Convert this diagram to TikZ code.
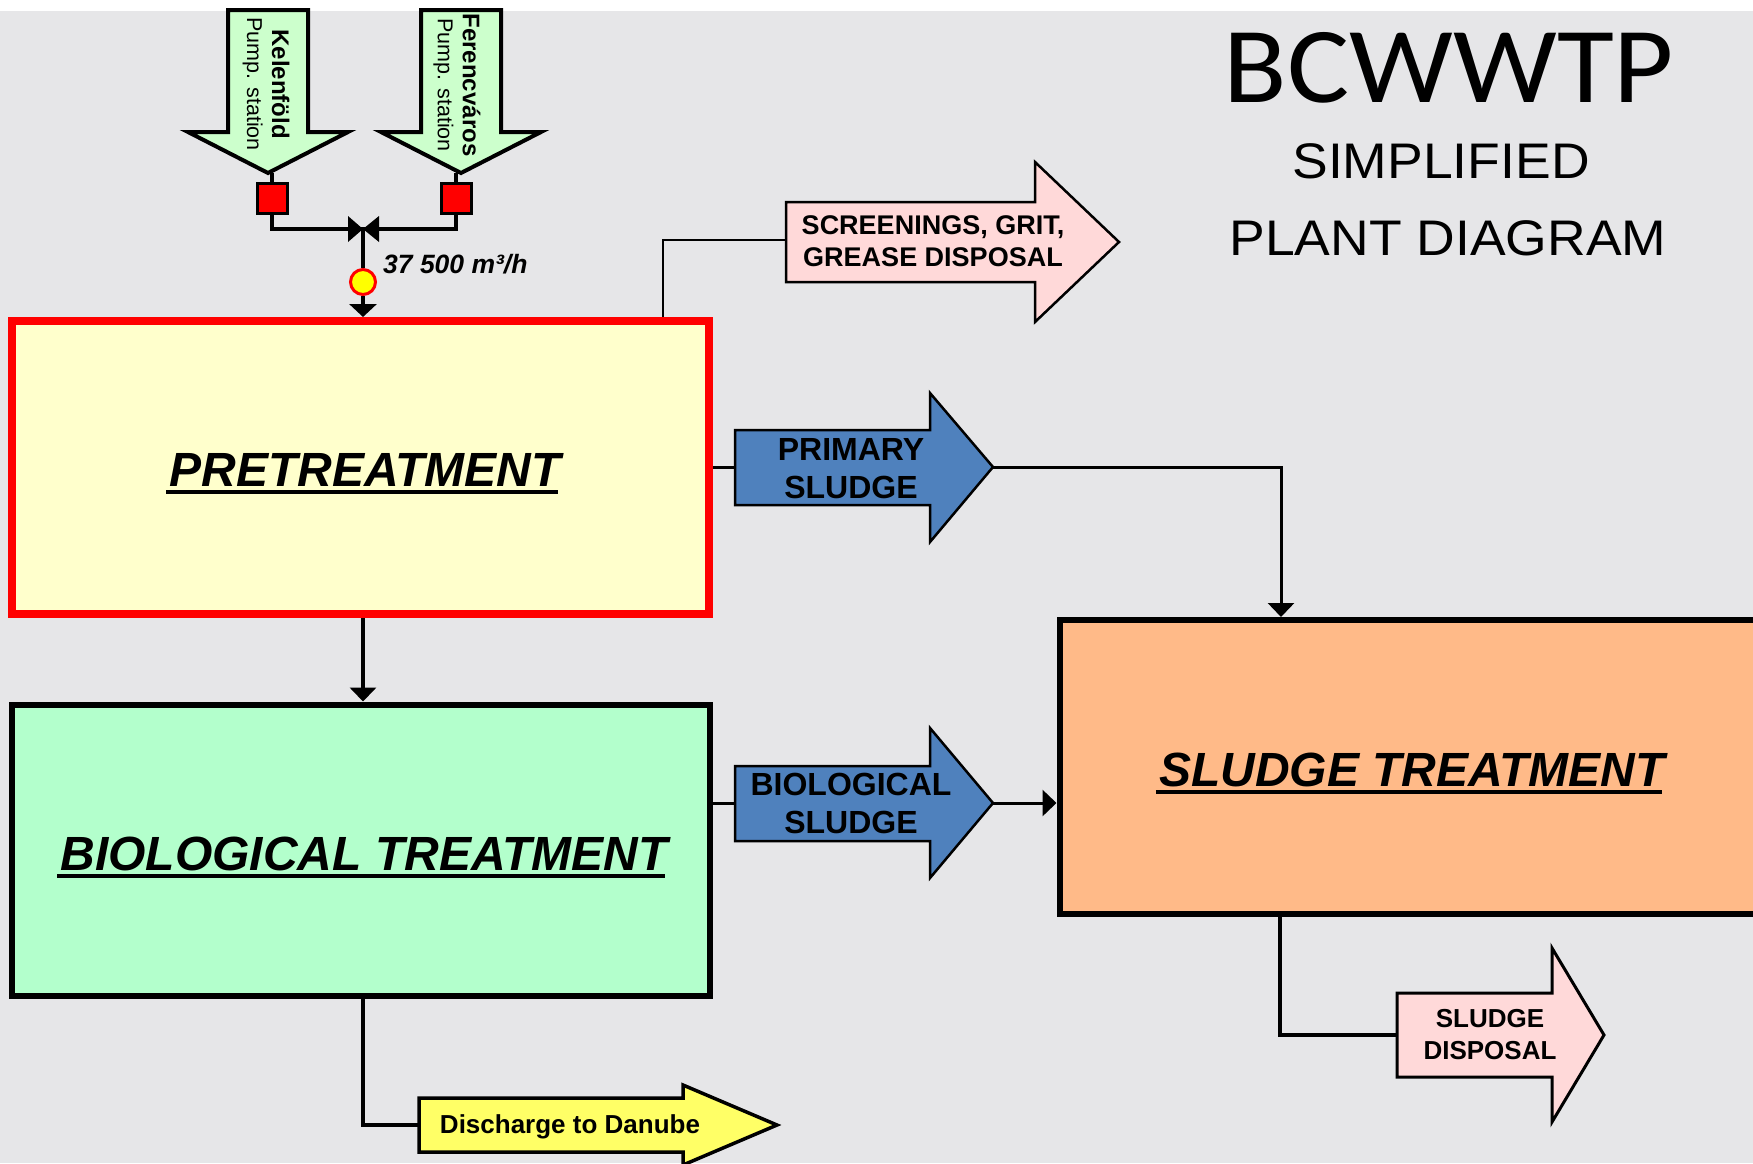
\documentclass[tikz,border=0pt]{standalone}
\usepackage{fontspec}
\usepackage{graphicx}
\setmainfont{Liberation Sans}
\newfontfamily\titlefont{Carlito}
\usetikzlibrary{arrows.meta}
\definecolor{bg}{RGB}{230,230,232}
\definecolor{pretfill}{RGB}{255,255,204}
\definecolor{biofill}{RGB}{179,255,204}
\definecolor{sludgefill}{RGB}{255,186,136}
\definecolor{bluearrow}{RGB}{79,129,189}
\definecolor{pinkarrow}{RGB}{255,217,217}
\definecolor{yellowarrow}{RGB}{255,255,102}
\definecolor{pumpfill}{RGB}{204,255,204}
\definecolor{meterfill}{RGB}{255,255,0}
\newcommand\fs[2]{\fontsize{#1pt}{#2pt}\selectfont}
\begin{document}
\begin{tikzpicture}[x=1pt,y=-1pt,
  box/.style={draw=black, rectangle, inner sep=0pt},
  mainlbl/.style={font=\bfseries\itshape\fs{48}{56}, inner sep=0pt, anchor=base},
  arrlbl/.style={font=\bfseries\fs{27}{32}, align=center, inner sep=0pt},
  bluelbl/.style={font=\bfseries\fs{32}{38}, align=center, inner sep=0pt},
  pumplbl/.style={font=\fs{21.5}{25}, align=center, inner sep=0pt, rotate=-90},
  pipe/.style={draw=black, line width=3.5pt},
  flow/.style={draw=black, line width=3pt},
  thinpipe/.style={draw=black, line width=2pt},
  tip/.style={-{Triangle[width=26pt,length=14pt]}},
  pumparr/.style={draw=black, fill=pumpfill, line width=4pt, line join=miter},
  bluearr/.style={draw=black, fill=bluearrow, line width=2.5pt, line join=miter},
  pinkarr/.style={draw=black, fill=pinkarrow, line width=2.5pt, line join=miter},
  yelarr/.style={draw=black, fill=yellowarrow, line width=3.5pt, line join=miter},
  redsq/.style={draw=black, fill=red, line width=3pt, minimum size=30pt, inner sep=0pt},
  titletxt/.style={anchor=base, inner sep=0pt}
]
\useasboundingbox (0,0) rectangle (1753,1163);
\fill[white] (0,0) rectangle (1753,11);
\fill[bg] (0,11) rectangle (1753,1163);

% title
\node[titletxt, font=\titlefont\fs{108}{110}] (t1) at (1449,102) {\scalebox{1.08}[1]{BCWWTP}};
\node[titletxt, font=\fs{50}{60}] (t2) at (1441,178) {\scalebox{1.07}[1]{SIMPLIFIED}};
\node[titletxt, font=\fs{50}{60}] (t3) at (1448,255) {\scalebox{1.07}[1]{PLANT DIAGRAM}};

% main boxes
\node[box, draw=red, line width=8pt, fill=pretfill, minimum width=696.5pt, minimum height=293pt] (pre) at (360.25,467.5) {};
\node[box, line width=6pt, fill=biofill, minimum width=698pt, minimum height=291.5pt] (bio) at (361,850.25) {};
\node[box, line width=6pt, fill=sludgefill, minimum width=740.5pt, minimum height=293.5pt] (sl) at (1429.75,766.75) {};

\node[mainlbl] (prelbl) at (365,486) {PRETREATMENT};
\draw[line width=3.5pt] ([yshift=-6pt,xshift=-3pt]prelbl.base west) -- ([yshift=-6pt,xshift=-3pt]prelbl.base east);
\node[mainlbl] (biolbl) at (364,870) {BIOLOGICAL TREATMENT};
\draw[line width=3.5pt] ([yshift=-6pt,xshift=-3pt]biolbl.base west) -- ([yshift=-6pt,xshift=-3pt]biolbl.base east);
\node[mainlbl] (sllbl) at (1412,786) {SLUDGE TREATMENT};
\draw[line width=3.5pt] ([yshift=-6pt,xshift=-3pt]sllbl.base west) -- ([yshift=-6pt,xshift=-3pt]sllbl.base east);

% pump station arrows
\draw[pumparr] (228,10) -- (308,10) -- (308,132) -- (348,132) -- (268,173) -- (188,132) -- (228,132) -- cycle;
\coordinate (ktip) at (268,173);
\draw[pumparr] (421,10) -- (501,10) -- (501,132) -- (541,132) -- (461,173) -- (381,132) -- (421,132) -- cycle;
\coordinate (ftip) at (461,173);
\node[pumplbl] (klbl) at (266,84) {{\bfseries\fs{24}{25}Kelenföld}\\Pump. station};
\node[pumplbl] (flbl) at (457,85) {{\bfseries\fs{24}{25}Ferencváros}\\Pump. station};

\node[redsq] (ksq) at (272,198) {};
\node[redsq] (fsq) at (456,198) {};
\coordinate (valve) at (363,229);
\draw[pipe] (ksq.north |- ktip) -- (ksq.north);
\draw[pipe] (fsq.north |- ftip) -- (fsq.north);
\draw[pipe] (ksq.south) |- (valve);
\draw[pipe] (fsq.south) |- (valve);
\fill[black] ([xshift=-15pt,yshift=-13pt]valve) -- (valve) -- ([xshift=-15pt,yshift=13pt]valve) -- cycle;
\fill[black] ([xshift=16pt,yshift=-13pt]valve) -- (valve) -- ([xshift=16pt,yshift=13pt]valve) -- cycle;
\node[circle, draw=red, fill=meterfill, line width=3pt, minimum size=25pt, inner sep=0pt] (meter) at (363,282) {};
\draw[pipe] (valve) -- (meter.north);
\draw[pipe, -{Triangle[width=27pt,length=13pt]}] (meter.south) -- (pre.north -| meter);
\node[anchor=base west, inner sep=0pt, font=\bfseries\itshape\fs{26.5}{30}] (flowlbl) at (383,273) {37 500 m³/h};

% screenings arrow
\draw[pinkarr] (786,202) -- (1035,202) -- (1035,162) -- (1119,242) -- (1035,322) -- (1035,282) -- (786,282) -- cycle;
\coordinate (scrin) at (786,240);
\coordinate (scrtap) at (663,240);
\node[arrlbl] (scr) at (933,241) {SCREENINGS, GRIT,\\GREASE DISPOSAL};
\draw[thinpipe] (pre.north -| scrtap) -- (scrtap) -- (scrin);

% primary sludge arrow
\draw[bluearr] (735,430) -- (930,430) -- (930,393) -- (993,467) -- (930,542) -- (930,505) -- (735,505) -- cycle;
\coordinate (primin) at (735,467);
\coordinate (primtip) at (993,467);
\node[bluelbl] (prim) at (851,469) {PRIMARY\\SLUDGE};
\coordinate (drop) at (1281,467);
\draw[flow] (pre.east |- primin) -- (primin);
\draw[flow, tip] (primtip) -- (drop) -- (drop |- sl.north);

% biological sludge arrow
\draw[bluearr] (735,766) -- (930,766) -- (930,728) -- (993,803) -- (930,878) -- (930,841) -- (735,841) -- cycle;
\coordinate (biosin) at (735,803);
\coordinate (biostip) at (993,803);
\node[bluelbl] (bios) at (851,803) {BIOLOGICAL\\SLUDGE};
\draw[flow] (bio.east |- biosin) -- (biosin);
\draw[flow, tip] (biostip) -- (sl.west |- biostip);

% pretreatment -> biological
\draw[line width=4pt, tip] (pre.south -| meter) -- (bio.north -| meter);

% sludge disposal arrow
\draw[pinkarr, line width=3pt] (1397,993) -- (1552,993) -- (1552,948) -- (1604,1035) -- (1552,1122) -- (1552,1077) -- (1397,1077) -- cycle;
\coordinate (dispin) at (1397,1035);
\coordinate (slout) at (1280,913);
\node[font=\bfseries\fs{26}{32}, align=center, inner sep=0pt] (disp) at (1490,1035) {SLUDGE\\DISPOSAL};
\draw[line width=4pt] (slout |- sl.south) |- (dispin);

% discharge arrow
\draw[yelarr] (419,1098) -- (683,1098) -- (683,1085) -- (777,1125) -- (683,1165) -- (683,1152) -- (419,1152) -- cycle;
\coordinate (dischin) at (419,1125);
\coordinate (bioout) at (363,996);
\node[anchor=base, inner sep=0pt, font=\bfseries\fs{26}{30}] (dis) at (570,1133) {Discharge to Danube};
\draw[line width=3.5pt] (bioout |- bio.south) |- (dischin);
\end{tikzpicture}
\end{document}
